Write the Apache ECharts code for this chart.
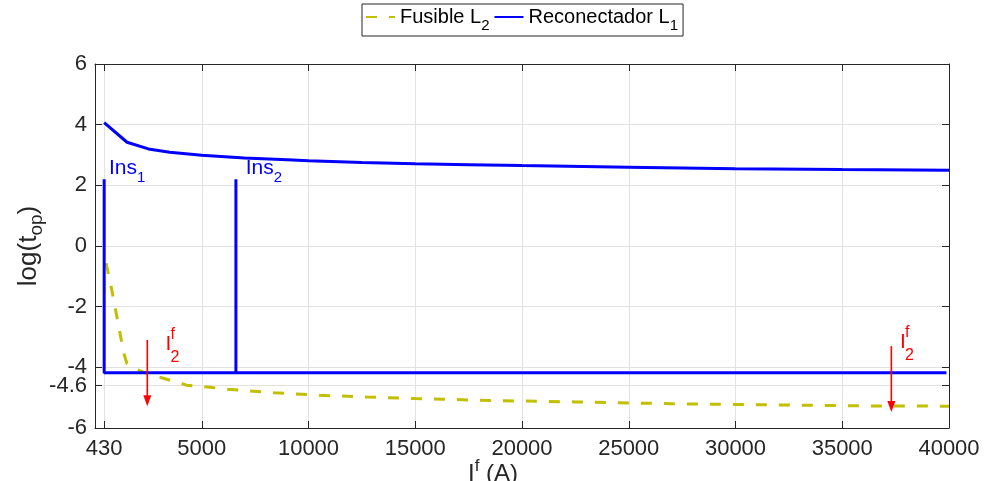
<!DOCTYPE html>
<html><head><meta charset="utf-8">
<script src="https://cdn.jsdelivr.net/npm/echarts@6/dist/echarts.min.js"></script>
<style>html,body{margin:0;padding:0;background:#fff}#c{width:986px;height:481px}</style>
</head><body><div id="c"></div>
<script>
// ---- data ----
const xTicks = [430, 5000, 10000, 15000, 20000, 25000, 30000, 35000, 40000];
const yTicks = [-6, -4.6, -4, -2, 0, 2, 4, 6];

const recloserX = [430, 1500, 2500, 3500, 5000, 7000, 9000, 10000, 12500, 15000, 17500, 20000, 25000, 30000, 35000, 40000];
const recloserY = [4.07, 3.42, 3.20, 3.09, 2.99, 2.90, 2.84, 2.81, 2.75, 2.71, 2.68, 2.65, 2.60, 2.55, 2.52, 2.50];

const instX = [430, 430, 6600, 6600, 6600, 39880];
const instY = [2.2, -4.18, -4.18, 2.2, -4.18, -4.18];

const fuseX = [520, 800, 1070, 1350, 1500, 2000, 2500, 3200, 4300, 5400, 6200, 8400, 10500, 12700, 15000, 19000, 22500, 27000, 32000, 36000, 40000];
const fuseY = [-0.57, -1.5, -2.5, -3.54, -3.88, -4.08, -4.22, -4.36, -4.59, -4.66, -4.72, -4.84, -4.92, -4.98, -5.03, -5.10, -5.14, -5.20, -5.24, -5.27, -5.28];

const arrowX = [2450, 37300];
const arrowTop = [-3.1, -3.3];
const arrowTip = [-5.28, -5.47];

const insLabelX = [650, 7060];
const insLabelY = [2.55, 2.55];
const insLabelSub = ['1', '2'];

const ifLabelX = [3300, 37700];
const ifLabelY = [-3.25, -3.17];

const seriesNames = ['Fusible L2', 'Reconectador L1'];

// ---- chart ----
const font = '"Liberation Sans", Arial, Helvetica, sans-serif';
const axisColor = '#262626';
const gridColor = '#e2e2e2';
const blue = '#0000ff';
const yellow = '#c2bf00';
const red = '#ff0000';

const zip = (a, b) => a.map((v, i) => [v, b[i]]);
const plain = v => String(v);

const chart = echarts.init(document.getElementById('c'));

const option = {
  animation: false,
  textStyle: { fontFamily: font },
  grid: { left: 95, right: 37, top: 64, bottom: 53, outerBoundsMode: 'none', containLabel: false },
  legend: {
    left: 362, top: 4,
    padding: [3, 5, 3, 3],
    itemWidth: 29, itemHeight: 14, itemGap: 4,
    borderColor: axisColor, borderWidth: 1,
    data: seriesNames,
    itemStyle: { opacity: 0 },
    formatter: function (name) {
      return name === 'Fusible L2' ? '{n|Fusible L}{s|2}' : '{n|Reconectador L}{s|1}';
    },
    textStyle: {
      fontFamily: font, fontSize: 20, color: '#000',
      rich: {
        n: { fontFamily: font, fontSize: 20, lineHeight: 32, color: '#000' },
        s: { fontFamily: font, fontSize: 15, lineHeight: 15, verticalAlign: 'bottom', color: '#000' }
      }
    }
  },
  xAxis: [{
    type: 'value', min: 0, max: 40000, position: 'bottom',
    axisLine: { show: true, onZero: false, lineStyle: { color: axisColor, width: 1 } },
    axisTick: { show: true, inside: true, length: 7, customValues: xTicks, lineStyle: { color: axisColor } },
    axisLabel: { customValues: xTicks, formatter: plain, fontSize: 22, color: axisColor, margin: 10, fontFamily: font },
    splitLine: { show: true, lineStyle: { color: gridColor, width: 1 } },
    name: '{m|I}{sup|f}{m| (A)}',
    nameLocation: 'middle', nameGap: 30, nameMoveOverlap: false,
    nameTextStyle: {
      padding: [0, 58, 0, 0], color: axisColor,
      rich: {
        m: { fontFamily: font, fontSize: 24, lineHeight: 32, color: axisColor },
        sup: { fontFamily: font, fontSize: 17, lineHeight: 17, verticalAlign: 'top', color: axisColor }
      }
    }
  }, {
    type: 'value', min: 0, max: 40000, position: 'top',
    axisLine: { show: true, onZero: false, lineStyle: { color: axisColor, width: 1 } },
    axisTick: { show: true, inside: true, length: 7, customValues: xTicks, lineStyle: { color: axisColor } },
    axisLabel: { show: false },
    splitLine: { show: false }
  }],
  yAxis: [{
    type: 'value', min: -6, max: 6, position: 'left',
    axisLine: { show: true, onZero: false, lineStyle: { color: axisColor, width: 1 } },
    axisTick: { show: true, inside: true, length: 7, customValues: yTicks, lineStyle: { color: axisColor } },
    axisLabel: { customValues: yTicks, formatter: plain, fontSize: 22, color: axisColor, margin: 8, fontFamily: font },
    splitLine: { show: true, lineStyle: { color: gridColor, width: 1 } },
    name: '{m|log(t}{s|op}{m|)}',
    nameLocation: 'middle', nameRotate: 90, nameGap: 49, nameMoveOverlap: false,
    nameTextStyle: {
      color: axisColor,
      rich: {
        m: { fontFamily: font, fontSize: 26, lineHeight: 34, color: axisColor },
        s: { fontFamily: font, fontSize: 19, lineHeight: 19, verticalAlign: 'bottom', color: axisColor }
      }
    }
  }, {
    type: 'value', min: -6, max: 6, position: 'right',
    axisLine: { show: true, onZero: false, lineStyle: { color: axisColor, width: 1 } },
    axisTick: { show: true, inside: true, length: 7, customValues: yTicks, lineStyle: { color: axisColor } },
    axisLabel: { show: false },
    splitLine: { show: false }
  }],
  series: [
    {
      name: 'Fusible L2', type: 'line', symbol: 'none', z: 3,
      data: zip(fuseX, fuseY),
      lineStyle: { color: yellow, width: 3, type: [11, 12] },
      itemStyle: { color: yellow }
    },
    {
      name: 'Reconectador L1', type: 'line', symbol: 'none', z: 4,
      data: zip(recloserX, recloserY),
      lineStyle: { color: blue, width: 3 },
      itemStyle: { color: blue }
    },
    {
      name: 'Reconectador L1', type: 'line', symbol: 'none', z: 4,
      data: zip(instX, instY),
      lineStyle: { color: blue, width: 3 },
      itemStyle: { color: blue }
    },
    {
      type: 'custom', z: 6, silent: true,
      data: arrowX.map((x, i) => [x, arrowTop[i], arrowTip[i]]),
      encode: { x: 0, y: [1, 2] },
      renderItem: function (params, api) {
        const a = api.coord([api.value(0), api.value(1)]);
        const b = api.coord([api.value(0), api.value(2)]);
        const hl = 11, hw = 4;
        return {
          type: 'group', children: [
            { type: 'line', shape: { x1: a[0], y1: a[1], x2: b[0], y2: b[1] - hl + 1 }, style: { stroke: red, lineWidth: 1.6 } },
            { type: 'polygon', shape: { points: [[b[0] - hw, b[1] - hl], [b[0] + hw, b[1] - hl], [b[0], b[1]]] }, style: { fill: red } }
          ]
        };
      }
    },
    {
      type: 'custom', z: 6, silent: true,
      data: insLabelX.map((x, i) => [x, insLabelY[i]]),
      encode: { x: 0, y: 1 },
      renderItem: function (params, api) {
        const p = api.coord([api.value(0), api.value(1)]);
        const s = insLabelSub[params.dataIndex];
        return {
          type: 'text', x: p[0], y: p[1],
          style: {
            text: '{m|Ins}{s|' + s + '}',
            align: 'left', verticalAlign: 'middle',
            rich: {
              m: { fontFamily: font, fontSize: 21, lineHeight: 34, fill: blue },
              s: { fontFamily: font, fontSize: 15, lineHeight: 15, verticalAlign: 'bottom', fill: blue }
            }
          }
        };
      }
    },
    {
      type: 'custom', z: 6, silent: true,
      data: ifLabelX.map((x, i) => [x, ifLabelY[i]]),
      encode: { x: 0, y: 1 },
      renderItem: function (params, api) {
        const p = api.coord([api.value(0), api.value(1)]);
        return {
          type: 'group', children: [
            { type: 'text', x: p[0], y: p[1], style: { text: 'I', fontFamily: font, fontSize: 21, fill: red, align: 'left', verticalAlign: 'middle' } },
            { type: 'text', x: p[0] + 5, y: p[1] - 10, style: { text: 'f', fontFamily: font, fontSize: 16, fill: red, align: 'left', verticalAlign: 'middle' } },
            { type: 'text', x: p[0] + 5, y: p[1] + 13, style: { text: '2', fontFamily: font, fontSize: 16, fill: red, align: 'left', verticalAlign: 'middle' } }
          ]
        };
      }
    }
  ]
};
chart.setOption(option);
</script>
</body></html>
